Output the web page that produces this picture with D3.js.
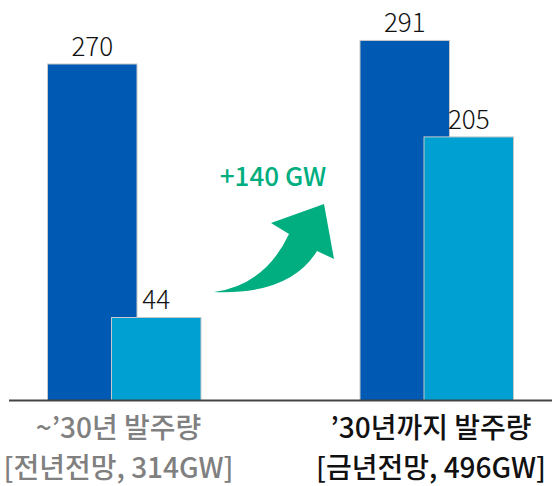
<!DOCTYPE html>
<html>
<head>
<meta charset="utf-8">
<script src="https://cdn.jsdelivr.net/npm/d3@7/dist/d3.min.js"></script>
<style>
  html, body { margin: 0; padding: 0; background: #fff; }
  svg { display: block; font-family: "Noto Sans CJK KR", "Noto Sans", sans-serif; }
</style>
</head>
<body>
<svg id="chart" width="552" height="486"></svg>
<script>
// ---- data ----
const categories = ["prev", "curr"];
const labelLine1 = ["~’30년 발주량", "’30년까지 발주량"];
const labelLine2 = ["[전년전망, 314GW]", "[금년전망, 496GW]"];
const seriesA = [270, 291];   // dark blue
const seriesB = [44, 205];    // light blue
const deltaLabel = "+140 GW";

// ---- layout ----
const W = 552, H = 486;
const baseY = 400.5;
const svg = d3.select("#chart");

const x = d3.scalePoint().domain(categories).range([124.5, 437]);
const y = d3.scaleLinear().domain([-30, 300]).range([baseY, 30.35]);

const barW = 89.5;
const offA = -77, offB = -13;
const colA = "#0059B3", colB = "#00A0D3", green = "#00AE80";

const dataA = categories.map((c, i) => ({ c, v: seriesA[i] }));
const dataB = categories.map((c, i) => ({ c, v: seriesB[i] }));

function drawSeries(data, off, color) {
  svg.append("g").selectAll("rect").data(data).join("rect")
    .attr("x", d => x(d.c) + off)
    .attr("y", d => y(d.v))
    .attr("width", barW)
    .attr("height", d => baseY - y(d.v))
    .attr("fill", color)
    .attr("stroke", "#c8c8c8")
    .attr("stroke-width", 1);
  svg.append("g").selectAll("text").data(data).join("text")
    .attr("x", d => x(d.c) + off + barW / 2)
    .attr("y", d => y(d.v) - 8)
    .attr("text-anchor", "middle")
    .attr("font-size", 26)
    .attr("font-weight", 300)
    .attr("fill", "#111")
    .text(d => d.v);
}
drawSeries(dataA, offA, colA);
drawSeries(dataB, offB, colB);

// axis baseline
svg.append("line")
  .attr("x1", 9).attr("x2", W)
  .attr("y1", baseY).attr("y2", baseY)
  .attr("stroke", "#444").attr("stroke-width", 2);

// category labels
const catG = svg.append("g");
categories.forEach((c, i) => {
  const col = i === 0 ? "#808080" : "#111";
  catG.append("text")
    .attr("x", x(c) - 6).attr("y", 438)
    .attr("text-anchor", "middle")
    .attr("font-size", 28).attr("font-weight", 500)
    .attr("fill", col).text(labelLine1[i]);
  catG.append("text")
    .attr("x", x(c) - 6).attr("y", 478)
    .attr("text-anchor", "middle")
    .attr("font-size", 28).attr("font-weight", 500)
    .attr("fill", col).text(labelLine2[i]);
});

// growth arrow annotation
svg.append("path")
  .attr("d", "M214,292 Q265,285 289,234 L271,223 L324,204 L334,259 L317,251 Q290,295 214,292 Z")
  .attr("fill", green);
svg.append("text")
  .attr("x", 273).attr("y", 186)
  .attr("text-anchor", "middle")
  .attr("font-size", 26).attr("font-weight", 500)
  .attr("fill", green).text(deltaLabel);
</script>
</body>
</html>
